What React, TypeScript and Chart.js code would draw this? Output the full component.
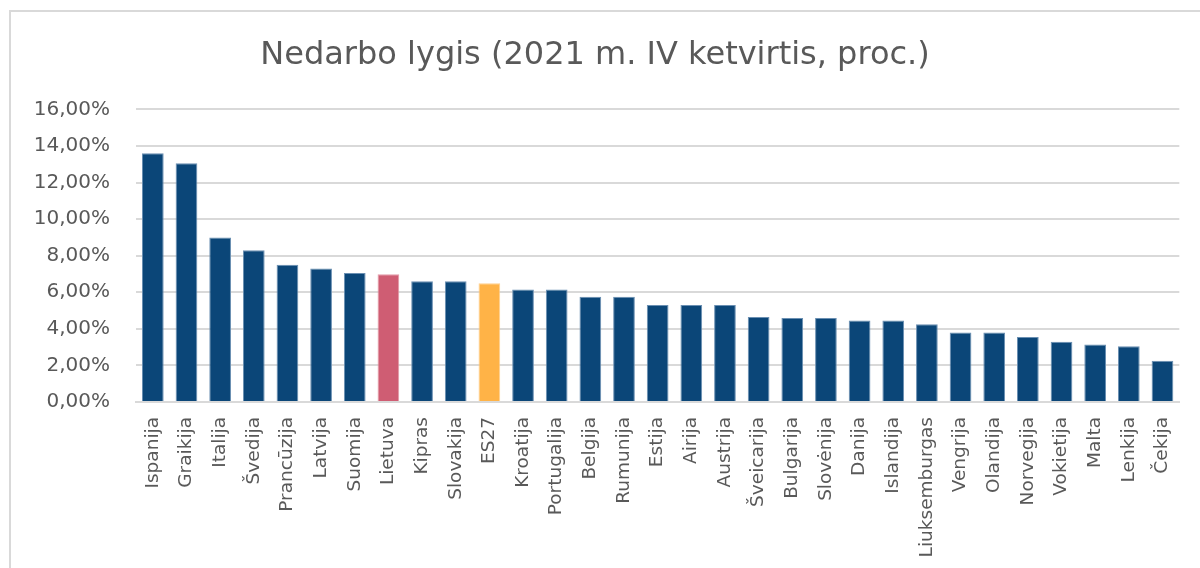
import React, { useEffect, useRef } from "react";
import { Chart, registerables } from "chart.js";

Chart.register(...registerables);

const title = "Nedarbo lygis (2021 m. IV ketvirtis, proc.)";

const categories = [
  "Ispanija", "Graikija", "Italija", "Švedija", "Prancūzija", "Latvija", "Suomija",
  "Lietuva", "Kipras", "Slovakija", "ES27", "Kroatija", "Portugalija", "Belgija",
  "Rumunija", "Estija", "Airija", "Austrija", "Šveicarija", "Bulgarija", "Slovėnija",
  "Danija", "Islandija", "Liuksemburgas", "Vengrija", "Olandija", "Norvegija",
  "Vokietija", "Malta", "Lenkija", "Čekija",
];

const values = [
  13.6, 13.05, 9.0, 8.3, 7.5, 7.3, 7.05,
  6.98, 6.6, 6.6, 6.5, 6.15, 6.15, 5.75,
  5.75, 5.3, 5.3, 5.3, 4.65, 4.6, 4.6,
  4.45, 4.45, 4.25, 3.8, 3.8, 3.55,
  3.3, 3.15, 3.05, 2.25,
];

const yTicks = [0, 2, 4, 6, 8, 10, 12, 14, 16];

const lithuania = "Lietuva";
const euAverage = "ES27";

const BLUE = "#0B4678";
const PINK = "#CF5D73";
const ORANGE = "#FFB347";
const TEXT = "#595959";
const GRID = "#D9D9D9";

export default function App() {
  const canvasRef = useRef<HTMLCanvasElement | null>(null);

  useEffect(() => {
    const canvas = canvasRef.current;
    if (!canvas) return;
    const fills = categories.map((c) => (c === lithuania ? PINK : c === euAverage ? ORANGE : BLUE));
    const borders = categories.map((c) => (c === lithuania ? "#E39AA8" : c === euAverage ? "#FFD08F" : "#6A8FB2"));

    const chart = new Chart(canvas, {
      type: "bar",
      data: {
        labels: categories,
        datasets: [
          {
            data: values,
            backgroundColor: fills,
            borderColor: borders,
            borderWidth: 1,
            barPercentage: 0.645,
            categoryPercentage: 1,
          },
        ],
      },
      options: {
        animation: false,
        responsive: true,
        maintainAspectRatio: false,
        layout: { padding: { left: 10, right: 20, top: 10, bottom: 0 } },
        plugins: {
          legend: { display: false },
          tooltip: { enabled: false },
          title: {
            display: true,
            text: title,
            color: TEXT,
            font: { family: "'DejaVu Sans'", size: 32, weight: "normal", lineHeight: 1.2 },
            padding: { top: 26, bottom: 35 },
          },
        },
        scales: {
          x: {
            grid: { display: false, drawTicks: false },
            border: { display: true, color: GRID, width: 2 },
            ticks: {
              autoSkip: false,
              minRotation: 90,
              maxRotation: 90,
              padding: 15,
              color: TEXT,
              font: { family: "'DejaVu Sans'", size: 18.5 },
            },
            afterFit: (s: any) => {
              s.height = 166;
            },
          },
          y: {
            min: 0,
            max: 16,
            afterBuildTicks: (s: any) => {
              s.ticks = yTicks.map((v) => ({ value: v }));
            },
            grid: { color: GRID, lineWidth: 2, drawTicks: false },
            border: { display: false },
            ticks: {
              padding: 26,
              color: TEXT,
              font: { family: "'DejaVu Sans'", size: 20 },
              callback: (v: any) => Number(v).toFixed(2).replace(".", ",") + "%",
            },
            afterFit: (s: any) => {
              s.width = 126;
            },
          },
        },
      },
    });
    return () => chart.destroy();
  }, []);

  return (
    <div
      style={{
        position: "fixed",
        left: 0,
        top: 0,
        width: 1200,
        height: 568,
        overflow: "hidden",
        background: "#fff",
      }}
    >
      <div
        style={{
          position: "absolute",
          left: 9,
          top: 10,
          width: 1300,
          height: 700,
          border: "2px solid #D9D9D9",
          boxSizing: "border-box",
        }}
      />
      <div style={{ position: "absolute", left: 0, top: 0, width: 1200, height: 568 }}>
        <canvas ref={canvasRef} />
      </div>
    </div>
  );
}
